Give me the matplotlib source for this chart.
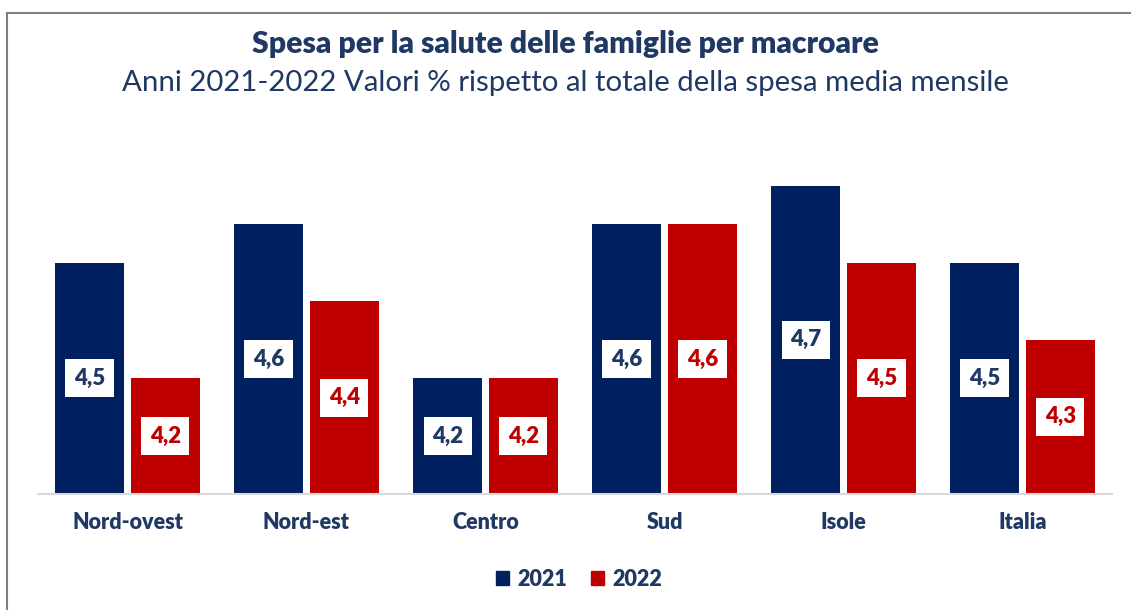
import matplotlib.pyplot as plt
import matplotlib.patches as mpatches
import numpy as np

plt.rcParams['font.family'] = ['Lato', 'DejaVu Sans']

regions = ['Nord-ovest', 'Nord-est', 'Centro', 'Sud', 'Isole', 'Italia']
values_2021 = [4.5, 4.6, 4.2, 4.6, 4.7, 4.5]
values_2022 = [4.2, 4.4, 4.2, 4.6, 4.5, 4.3]
years = ['2021', '2022']

navy = '#002060'
red = '#C00000'
text_col = '#1F3864'

fig = plt.figure(figsize=(11.31, 6.10), dpi=100)
ax = fig.add_axes([38 / 1131, 1 - 494 / 610, 1074 / 1131, 347 / 610])

x = np.arange(len(regions))
w = 0.385
off = 0.212
bars1 = ax.bar(x - off, values_2021, w, color=navy, label=years[0])
bars2 = ax.bar(x + off, values_2022, w, color=red, label=years[1])

ymin = 3.9
ax.set_ylim(ymin, 4.8)
ax.set_xlim(-0.5, len(regions) - 0.5)

for bars, col in [(bars1, text_col), (bars2, red)]:
    for b in bars:
        h = b.get_height()
        ax.text(b.get_x() + b.get_width() / 2, (ymin + h) / 2,
                f'{h:.1f}'.replace('.', ','), ha='center', va='center',
                fontsize=16, fontweight='heavy', color=col,
                bbox=dict(boxstyle='square,pad=0.38', fc='white', ec='none'))

for s in ['top', 'right', 'left']:
    ax.spines[s].set_visible(False)
ax.spines['bottom'].set_color('#D9D9D9')
ax.spines['bottom'].set_linewidth(1.5)
ax.set_yticks([])
ax.set_xticks(x)
ax.set_xticklabels(regions, fontsize=15.5, fontweight='heavy', color=text_col)
ax.tick_params(axis='x', length=0, pad=13)

fig.text(0.5, 1 - 44 / 610, 'Spesa per la salute delle famiglie per macroare',
         ha='center', va='center', fontsize=21.7, fontweight='heavy', color=text_col)
fig.text(0.5, 1 - 83 / 610, 'Anni 2021-2022 Valori % rispetto al totale della spesa media mensile',
         ha='center', va='center', fontsize=21.2, color=text_col)

handles = [mpatches.Patch(color=navy), mpatches.Patch(color=red)]
fig.legend(handles, years, loc='center', bbox_to_anchor=(0.512, 1 - 579 / 610),
           ncol=2, frameon=False, handlelength=0.6, handleheight=0.6,
           columnspacing=1.1, handletextpad=0.4,
           prop={'size': 15.5, 'weight': 'heavy'}, labelcolor=text_col)

# outer frame
fig.add_artist(plt.Line2D([7 / 1131, 7 / 1131], [0, 1 - 13 / 610],
                          transform=fig.transFigure, color='#7F7F7F', lw=1.5))
fig.add_artist(plt.Line2D([7 / 1131, 1], [1 - 13 / 610, 1 - 13 / 610],
                          transform=fig.transFigure, color='#7F7F7F', lw=1.5))

fig.savefig('out.png', dpi=100)
